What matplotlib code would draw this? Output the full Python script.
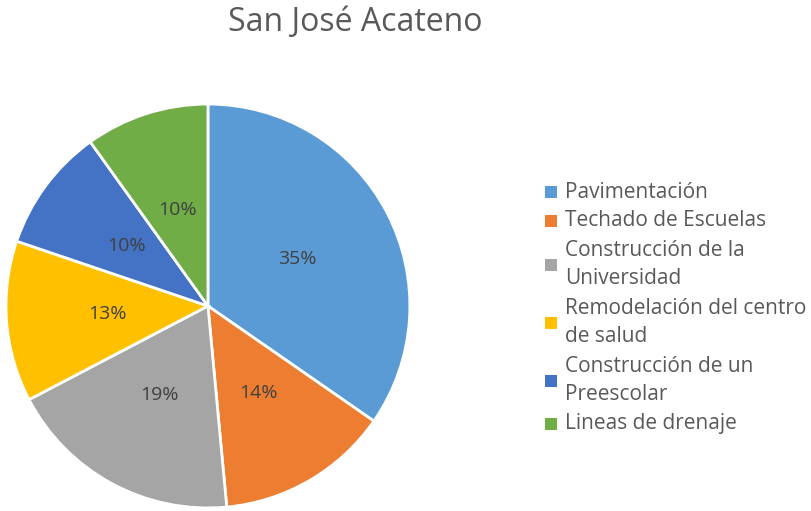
import matplotlib.pyplot as plt
from matplotlib.patches import Rectangle

plt.rcParams['font.family'] = ['Open Sans', 'DejaVu Sans']

titulo = "San José Acateno"
obras = ["Pavimentación", "Techado de Escuelas", "Construcción de la\nUniversidad",
         "Remodelación del centro\nde salud", "Construcción de un\nPreescolar",
         "Lineas de drenaje"]
porcentajes = [35, 14, 19, 13, 10, 10]
colores = ['#5B9BD5', '#ED7D31', '#A5A5A5', '#FFC000', '#4472C4', '#70AD47']

fig = plt.figure(figsize=(8.11, 5.11), dpi=100)

# pie
ax = fig.add_axes([0.0074, 0.0059, 0.498, 0.7906])
ax.pie(porcentajes, colors=colores, startangle=90, counterclock=False,
       autopct='%1.0f%%', pctdistance=0.5, radius=1,
       wedgeprops={'edgecolor': 'white', 'linewidth': 2},
       textprops={'color': '#404040', 'fontsize': 14})
ax.set_xlim(-1, 1)
ax.set_ylim(-1, 1)
ax.set_aspect('equal')
ax.axis('off')

fig.text(0.4377, 0.955, titulo, ha='center', va='center', fontsize=23, color='#595959')

# legend hecha a mano
y = 192
for nombre, c in zip(obras, colores):
    lineas = nombre.count('\n') + 1
    yc = y + (lineas - 1) * 29 / 2
    fig.patches.append(Rectangle((545 / 811, 1 - (yc + 6) / 511), 12 / 811, 12 / 511,
                                 transform=fig.transFigure, facecolor=c, edgecolor='none'))
    fig.text(565 / 811, 1 - yc / 511, nombre, ha='left', va='center', fontsize=15,
             color='#595959', linespacing=1.42)
    y += lineas * 29

fig.savefig('out.png', dpi=100)
